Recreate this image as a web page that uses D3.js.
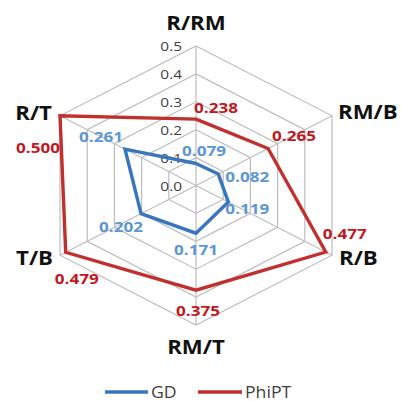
<!DOCTYPE html>
<html><head><meta charset="utf-8">
<script src="https://cdn.jsdelivr.net/npm/d3@7/dist/d3.min.js"></script>
<style>html,body{margin:0;padding:0;background:#fff;}svg{display:block;}</style>
</head><body>
<svg id="c" width="401" height="401"></svg>
<script>
const categories = ["R/RM","RM/B","R/B","RM/T","T/B","R/T"];
const gdValues = [0.079,0.082,0.119,0.171,0.202,0.261];
const phiValues = [0.238,0.265,0.477,0.375,0.479,0.500];
const tickValues = [0.0,0.1,0.2,0.3,0.4,0.5];
const seriesNames = ["GD","PhiPT"];

const svg = d3.select("#c");
const cx = 196, cy = 185.5, RX = 136/Math.sin(Math.PI/3), RY = 139.5;
const SX = 1.14;
const r = d3.scaleLinear().domain([0,0.5]).range([0,1]);
const ang = d3.scalePoint().domain(categories).range([0, 2*Math.PI*5/6]);
const px = (c,v) => cx + RX*r(v)*Math.sin(ang(c));
const py = (c,v) => cy - RY*r(v)*Math.cos(ang(c));
function txt(g,x,y,anchor,str){
  return g.append("text").attr("transform",`translate(${x},${y}) scale(${SX},1)`)
    .attr("text-anchor",anchor).attr("font-family","'Open Sans',sans-serif").text(str);
}

const grid = svg.append("g");
tickValues.filter(t=>t>0).forEach(t=>{
  grid.append("path")
    .attr("d", d3.line().curve(d3.curveLinearClosed)(categories.map(c=>[px(c,t),py(c,t)])))
    .attr("fill","none").attr("stroke","#bdbdbd").attr("stroke-width",1.2);
});
categories.forEach(c=>{
  grid.append("line").attr("x1",cx).attr("y1",cy).attr("x2",px(c,0.5)).attr("y2",py(c,0.5))
    .attr("stroke","#bdbdbd").attr("stroke-width",1.2);
});
tickValues.forEach(t=>{
  txt(grid, cx-14, py(categories[0],t)+5, "end", t.toFixed(1))
    .attr("font-size",13.5).attr("fill","#404040");
});

const colors = {GD:"#3a76bd", PhiPT:"#c0302f"};
const labelColors = {GD:"#5d96d6", PhiPT:"#c0191f"};
const series = [{name:"GD", vals:gdValues},{name:"PhiPT", vals:phiValues}];
const lineGen = d3.line().curve(d3.curveLinearClosed);
series.forEach(s=>{
  svg.append("path")
    .attr("d", lineGen(categories.map((c,i)=>[px(c,s.vals[i]),py(c,s.vals[i])])))
    .attr("fill","none").attr("stroke",colors[s.name]).attr("stroke-width",3.4).attr("stroke-linejoin","miter");
});

const offsets = {
  GD:[[-14,-13,"start"],[7,2,"start"],[-3,6,"start"],[0,16,"middle"],[-20,13,"middle"],[-24,-13,"middle"]],
  PhiPT:[[-2,-12,"start"],[4,-13,"start"],[-3,-19,"start"],[2,20,"middle"],[11,26,"middle"],[-22,32,"middle"]]
};
series.forEach(s=>{
  categories.forEach((c,i)=>{
    const o = offsets[s.name][i];
    txt(svg, px(c,s.vals[i])+o[0], py(c,s.vals[i])+o[1]+5.5, o[2], s.vals[i].toFixed(3))
      .attr("font-weight","bold").attr("font-size",15).attr("fill",labelColors[s.name]);
  });
});

const catPos = [[196,23,"middle"],[338,112,"start"],[339,258,"start"],[196,347,"middle"],[53,258,"end"],[52,113,"end"]];
categories.forEach((c,i)=>{
  txt(svg, catPos[i][0], catPos[i][1]+7, catPos[i][2], c)
    .attr("font-weight","bold").attr("font-size",19.5).attr("fill","#111");
});

const leg = [{x1:105,x2:148}, {x1:198,x2:242}];
seriesNames.forEach((n,i)=>{
  svg.append("line").attr("x1",leg[i].x1).attr("x2",leg[i].x2).attr("y1",392).attr("y2",392)
    .attr("stroke",colors[n]).attr("stroke-width",3.5);
  txt(svg, leg[i].x2+3, 397.5, "start", n).attr("font-size",15.5).attr("fill","#404040");
});
</script>
</body></html>
